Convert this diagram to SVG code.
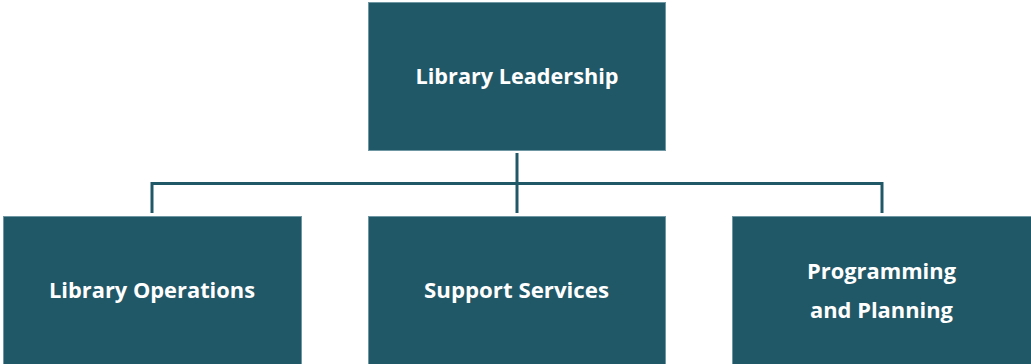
<svg xmlns="http://www.w3.org/2000/svg" width="1031" height="364" viewBox="0 0 1031 364">
<style>
.box{fill:#215868;stroke:#6f97a3;stroke-width:1}
.lbl{font-family:"Open Sans","Liberation Sans",sans-serif;font-weight:700;font-size:21.5px;fill:#ffffff;text-anchor:middle}
.conn{fill:none;stroke:#215868;stroke-width:3}
</style>
<rect width="1031" height="364" fill="#ffffff"/>
<g id="connectors">
<path class="conn" d="M517,153 V213"/>
<path class="conn" d="M152,213 V183.5 H882 V213"/>
</g>
<g id="leadership">
<rect class="box" x="368.5" y="2.5" width="297" height="148"/>
<text class="lbl" x="517" y="83.5" textLength="203" lengthAdjust="spacingAndGlyphs">Library Leadership</text>
</g>
<g id="operations">
<rect class="box" x="3.5" y="216.5" width="298" height="150"/>
<text class="lbl" x="152" y="298" textLength="206" lengthAdjust="spacingAndGlyphs">Library Operations</text>
</g>
<g id="support">
<rect class="box" x="368.5" y="216.5" width="297" height="150"/>
<text class="lbl" x="516.5" y="298" textLength="185" lengthAdjust="spacingAndGlyphs">Support Services</text>
</g>
<g id="programming">
<rect class="box" x="732.5" y="216.5" width="300" height="150"/>
<text class="lbl" x="881.5" y="278.5" textLength="149" lengthAdjust="spacingAndGlyphs">Programming</text>
<text class="lbl" x="881.5" y="318" textLength="143" lengthAdjust="spacingAndGlyphs">and Planning</text>
</g>
</svg>
